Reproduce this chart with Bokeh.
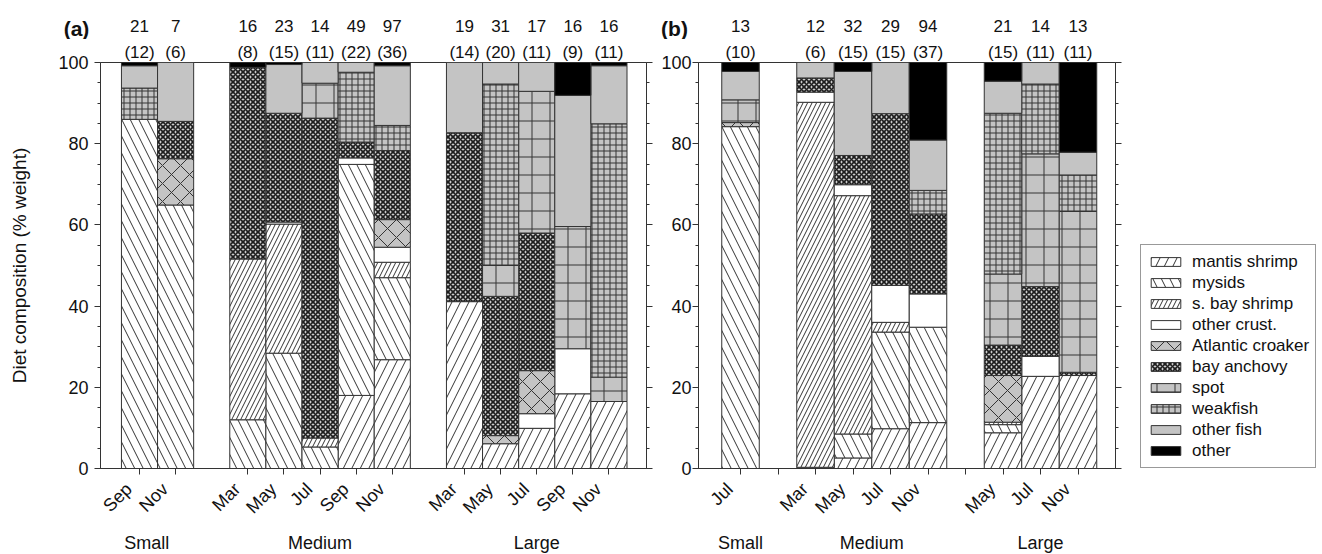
import numpy as np
from bokeh.plotting import figure
from bokeh.models import (FixedTicker, LinearAxis, Range1d, Legend, LegendItem,
                          ColumnDataSource)
from bokeh.core.properties import value
from bokeh.layouts import row, column
from bokeh.embed import file_html
from bokeh.resources import INLINE

FONT = "Liberation Sans"

categories = ["mantis shrimp", "mysids", "s. bay shrimp", "other crust.", "Atlantic croaker",
              "bay anchovy", "spot", "weakfish", "other fish", "other"]

# ---------------- Panel (a) ----------------
a_groups = ["Small", "Medium", "Large"]
a_months = [["Sep", "Nov"], ["Mar", "May", "Jul", "Sep", "Nov"], ["Mar", "May", "Jul", "Sep", "Nov"]]
a_n_stomachs = [21, 7, 16, 23, 14, 49, 97, 19, 31, 17, 16, 16]
a_n_collections = [12, 6, 8, 15, 11, 22, 36, 14, 20, 11, 9, 11]
a_mantis_shrimp = [0, 0, 0, 0, 0, 18.0, 26.8, 41.1, 6.1, 9.9, 18.4, 16.5]
a_mysids = [86.0, 64.9, 12.0, 28.4, 5.3, 56.9, 20.2, 0, 0, 0, 0, 0]
a_s_bay_shrimp = [0, 0, 39.6, 31.8, 2.2, 0, 3.8, 0, 0, 0, 0, 0]
a_other_crust = [0, 0, 0, 0.5, 0, 1.6, 3.7, 0, 0, 3.6, 11.1, 0]
a_atlantic_croaker = [0, 11.4, 0, 0, 0, 0, 6.8, 0, 2.0, 10.6, 0, 0]
a_bay_anchovy = [0, 9.2, 47.2, 26.8, 78.8, 3.9, 17.0, 41.6, 34.3, 33.9, 0, 0]
a_spot = [0, 0, 0, 0, 8.6, 0, 0, 0, 7.6, 34.9, 30.1, 6.0]
a_weakfish = [7.7, 0, 0, 0, 0, 17.2, 6.2, 0, 44.7, 0, 0, 62.4]
a_other_fish = [5.5, 14.5, 0, 12.0, 5.1, 2.4, 14.7, 17.3, 5.3, 7.1, 32.3, 14.3]
a_other = [0.8, 0, 1.2, 0.5, 0, 0, 0.8, 0, 0, 0, 8.1, 0.8]

# ---------------- Panel (b) ----------------
b_groups = ["Small", "Medium", "Large"]
b_months = [["Jul"], ["Mar", "May", "Jul", "Nov"], ["May", "Jul", "Nov"]]
b_n_stomachs = [13, 12, 32, 29, 94, 21, 14, 13]
b_n_collections = [10, 6, 15, 15, 37, 15, 11, 11]
b_mantis_shrimp = [0, 0.3, 2.6, 9.8, 11.3, 8.8, 22.7, 22.9]
b_mysids = [84.2, 0, 5.9, 23.8, 23.5, 2.0, 0, 0]
b_s_bay_shrimp = [0, 89.9, 58.7, 2.4, 0, 0.6, 0, 0]
b_other_crust = [0, 2.5, 2.7, 9.1, 8.2, 0, 4.9, 0]
b_atlantic_croaker = [1.0, 0, 0, 0, 0, 11.5, 0, 0]
b_bay_anchovy = [0, 3.5, 7.2, 42.3, 19.7, 7.5, 17.2, 0.8]
b_spot = [5.6, 0, 0, 0, 0, 17.5, 32.7, 39.6]
b_weakfish = [0, 0, 0, 0, 5.8, 39.6, 17.2, 9.0]
b_other_fish = [7.0, 3.8, 20.7, 12.6, 12.4, 7.9, 5.3, 5.6]
b_other = [2.2, 0, 2.2, 0, 19.1, 4.6, 0, 22.1]

GRAY = "#c4c4c4"
EDGE = "#333333"
TXT = "#111111"
STYLE = {
    "mantis shrimp": dict(fill_color="white", hatch_pattern="/", hatch_scale=17, hatch_color=EDGE, hatch_weight=1),
    "mysids": dict(fill_color="white", hatch_pattern="\\", hatch_scale=17, hatch_color=EDGE, hatch_weight=1),
    "s. bay shrimp": dict(fill_color="white", hatch_pattern="/", hatch_scale=9, hatch_color=EDGE, hatch_weight=1),
    "other crust.": dict(fill_color="white"),
    "Atlantic croaker": dict(fill_color=GRAY, hatch_pattern="x", hatch_scale=18, hatch_color=EDGE, hatch_weight=1),
    "bay anchovy": dict(fill_color="#d0d0d0", hatch_pattern="x", hatch_scale=5, hatch_color="#1e1e1e", hatch_weight=1.7),
    "spot": dict(fill_color=GRAY, hatch_pattern="+", hatch_scale=18, hatch_color=EDGE, hatch_weight=1),
    "weakfish": dict(fill_color=GRAY, hatch_pattern="+", hatch_scale=6, hatch_color=EDGE, hatch_weight=1),
    "other fish": dict(fill_color=GRAY),
    "other": dict(fill_color="black"),
}

HEAD_H = 39
TOP_B, FRAME_H, BOT_B = 23, 406, 87
MAIN_H = TOP_B + FRAME_H + BOT_B
Y_TICKS = [0, 20, 40, 60, 80, 100]
Y_MINOR = [v for v in range(0, 101, 5) if v % 20]
PAD = "\u00a0\u00a0\u00a0"   # shifts the slanted month labels off the tick, as in the original


def slot_positions(months):
    xs, pos = [], 0
    for g in months:
        for _ in g:
            xs.append(pos)
            pos += 1
        pos += 1
    return xs


def style_ticks(ax):
    ax.major_tick_in = 0
    ax.major_tick_out = 6
    ax.minor_tick_in = 0
    ax.minor_tick_out = 3
    ax.axis_line_color = EDGE
    ax.major_tick_line_color = EDGE
    ax.minor_tick_line_color = EDGE


def text_only_axis(ticks, labels, standoff, size):
    ax = LinearAxis(ticker=FixedTicker(ticks=ticks, minor_ticks=[]))
    ax.major_label_overrides = {t: s for t, s in zip(ticks, labels)}
    ax.axis_line_color = None
    ax.major_tick_line_color = None
    ax.minor_tick_line_color = None
    ax.major_tick_in = 0
    ax.major_tick_out = 0
    ax.minor_tick_in = 0
    ax.minor_tick_out = 0
    ax.major_label_standoff = standoff
    ax.major_label_text_font = FONT
    ax.major_label_text_font_size = size
    ax.major_label_text_color = TXT
    return ax


def make_panel(width, border_left, border_right, x_range, months, groups, group_x, series,
               n_col, tick_all, label_standoff):
    p = figure(width=width, height=MAIN_H, x_range=Range1d(*x_range), y_range=Range1d(0, 100),
               output_backend="svg", toolbar_location=None,
               min_border_left=border_left, min_border_right=border_right,
               min_border_top=TOP_B, min_border_bottom=BOT_B)
    p.xgrid.visible = False
    p.ygrid.visible = False
    p.outline_line_color = EDGE
    p.background_fill_color = "white"
    p.border_fill_color = "white"

    xs = slot_positions(months)
    bottoms = np.zeros(len(xs))
    for cat, vals in zip(categories, series):
        vals = np.asarray(vals, dtype=float)
        tops = bottoms + vals
        m = vals > 0
        src = ColumnDataSource(dict(x=np.asarray(xs)[m], bottom=bottoms[m], top=tops[m]))
        p.vbar(x="x", bottom="bottom", top="top", width=1.0, source=src,
               line_color=EDGE, line_width=1, **STYLE[cat])
        bottoms = tops

    # left y axis
    yax = p.yaxis[0]
    yax.ticker = FixedTicker(ticks=Y_TICKS, minor_ticks=Y_MINOR)
    style_ticks(yax)
    yax.major_label_standoff = label_standoff
    yax.major_label_text_font = FONT
    yax.major_label_text_font_size = "18px"
    yax.major_label_text_color = TXT

    # right axis: ticks only
    rax = LinearAxis(ticker=FixedTicker(ticks=Y_TICKS, minor_ticks=Y_MINOR))
    style_ticks(rax)
    rax.major_label_overrides = {v: "" for v in Y_TICKS}
    rax.major_label_standoff = 0
    p.add_layout(rax, "right")

    # bottom axis: months, slanted
    flat_months = [m for g in months for m in g]
    xax = p.xaxis[0]
    ticks = list(range(0, xs[-1] + 1)) if tick_all else list(xs)
    xax.ticker = FixedTicker(ticks=ticks, minor_ticks=[])
    style_ticks(xax)
    xax.minor_tick_out = 0
    overrides = {t: "" for t in ticks}
    for x, mth in zip(xs, flat_months):
        overrides[x] = mth + PAD
    xax.major_label_overrides = overrides
    xax.major_label_orientation = np.pi / 4
    xax.major_label_standoff = 1
    xax.major_label_text_font = FONT
    xax.major_label_text_font_size = "18px"
    xax.major_label_text_color = TXT

    # second bottom axis: size groups
    p.add_layout(text_only_axis(group_x, groups, 5, "18px"), "below")
    # number of collections above each bar (first row above the frame)
    p.add_layout(text_only_axis(xs, [f"({c})" for c in n_col], 1, "17px"), "above")
    return p, xs


def make_header(width, x_range, xs, n_st, letter, letter_x):
    h = figure(width=width, height=HEAD_H, x_range=Range1d(*x_range), y_range=Range1d(0, HEAD_H),
               output_backend="svg", toolbar_location=None, x_axis_type=None, y_axis_type=None,
               min_border=0)
    h.outline_line_color = None
    h.xgrid.visible = False
    h.ygrid.visible = False
    src = ColumnDataSource(dict(x=xs, n=[str(v) for v in n_st]))
    h.text(x="x", y=HEAD_H - 25, text="n", source=src, text_font=value(FONT), text_font_size="17px",
           text_align="center", text_baseline="middle", text_color=TXT)
    h.text(x=[letter_x], y=[HEAD_H - 27.5], text=[letter], text_font=value(FONT), text_font_size="21px",
           text_font_style="bold", text_align="center", text_baseline="middle", text_color=TXT)
    return h


# panel (a): frame 100..646 px; panel (b): frame 42..459 px inside its figure
A_W, A_L, A_R, A_X = 656, 100, 10, (-1.08, 14.04)
B_W, B_L, B_R, B_X = 471, 42, 12, (-1.12, 10.0)

pa, xa = make_panel(A_W, A_L, A_R, A_X, a_months, a_groups, [0.2, 5, 11],
                    [a_mantis_shrimp, a_mysids, a_s_bay_shrimp, a_other_crust, a_atlantic_croaker,
                     a_bay_anchovy, a_spot, a_weakfish, a_other_fish, a_other],
                    a_n_collections, False, 6)
pa.yaxis[0].axis_label = "Diet composition (% weight)"
pa.yaxis[0].axis_label_text_font = FONT
pa.yaxis[0].axis_label_text_font_size = "19px"
pa.yaxis[0].axis_label_text_font_style = "normal"
pa.yaxis[0].axis_label_text_color = TXT
pa.yaxis[0].axis_label_standoff = 25

pb, xb = make_panel(B_W, B_L, B_R, B_X, b_months, b_groups, [0, 3.5, 8],
                    [b_mantis_shrimp, b_mysids, b_s_bay_shrimp, b_other_crust, b_atlantic_croaker,
                     b_bay_anchovy, b_spot, b_weakfish, b_other_fish, b_other],
                    b_n_collections, True, 1)


def header_range(W, L, R, xr):
    ppu = (W - L - R) / (xr[1] - xr[0])
    return (xr[0] - L / ppu, xr[1] + R / ppu)


ha = make_header(A_W, header_range(A_W, A_L, A_R, A_X), xa, a_n_stomachs, "(a)", -1.744)
hb = make_header(B_W, header_range(B_W, B_L, B_R, B_X), xb, b_n_stomachs, "(b)", -1.76)

# legend figure (same top/bottom borders as the panels so the row stays aligned)
L_W = 1320 - A_W - B_W
pl = figure(width=L_W, height=MAIN_H, x_range=Range1d(0, 1), y_range=Range1d(0, 1),
            output_backend="svg", toolbar_location=None, x_axis_type=None, y_axis_type=None,
            min_border_left=13, min_border_right=0, min_border_top=TOP_B, min_border_bottom=BOT_B)
pl.outline_line_color = None
pl.xgrid.visible = False
pl.ygrid.visible = False
items = []
for cat in categories:
    # legend proxy, placed outside the visible range
    r = pl.vbar(x=[5], bottom=[5], top=[6], width=1, line_color=EDGE, line_width=1, **STYLE[cat])
    items.append(LegendItem(label=cat, renderers=[r]))
legend = Legend(items=items, location="bottom_left", orientation="vertical",
                glyph_width=37, glyph_height=11, label_height=21, label_standoff=8,
                spacing=0, padding=6, margin=0,
                label_text_font=FONT, label_text_font_size="17px", label_text_color=TXT,
                border_line_color=EDGE, border_line_width=1,
                background_fill_color="white", background_fill_alpha=1.0)
pl.add_layout(legend)

layout = column(row(ha, hb), row(pa, pb, pl))
open("out.html", "w").write(file_html(layout, INLINE))
